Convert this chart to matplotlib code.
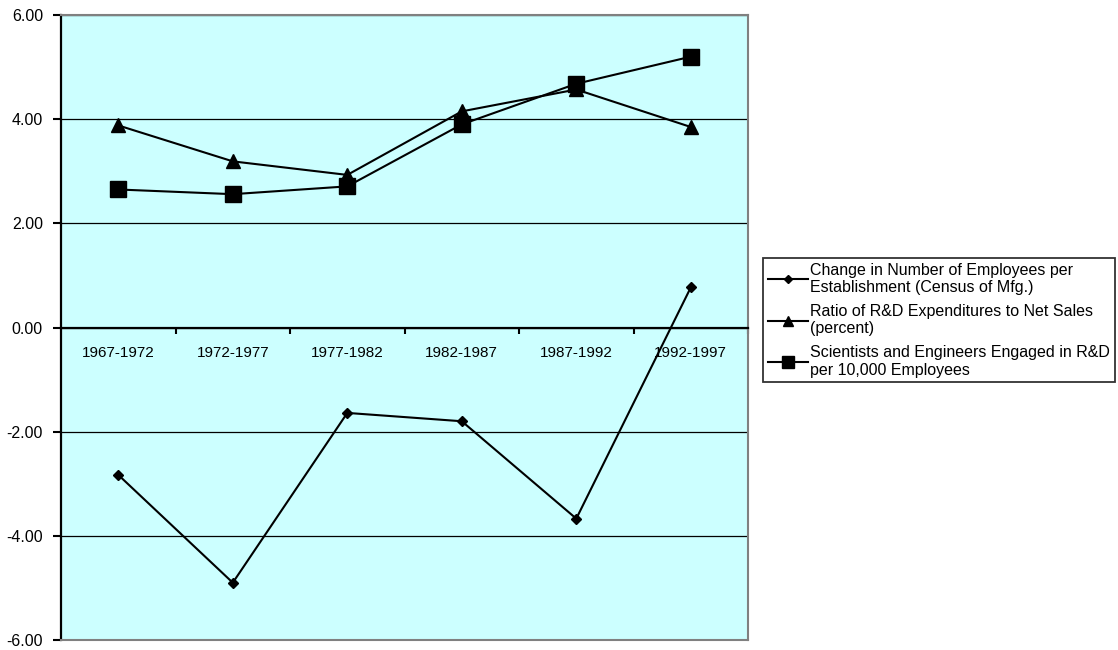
import numpy as np
import matplotlib
matplotlib.use("Agg")
import matplotlib.pyplot as plt
from matplotlib.ticker import FormatStrFormatter

plt.rcParams['font.family'] = ['Liberation Sans', 'DejaVu Sans']
plt.rcParams['font.size'] = 11

periods = ['1967-1972', '1972-1977', '1977-1982', '1982-1987', '1987-1992', '1992-1997']

# change in employees per establishment (Census of Mfg.)
employees_change = [-2.83, -4.90, -1.64, -1.80, -3.67, 0.77]
# R&D expenditure as percent of net sales
rd_ratio = [3.88, 3.19, 2.93, 4.15, 4.57, 3.85]
# scientists and engineers in R&D per 10,000 employees
scientists = [2.65, 2.56, 2.71, 3.90, 4.68, 5.20]

labels = ['Change in Number of Employees per\nEstablishment (Census of Mfg.)',
          'Ratio of R&D Expenditures to Net Sales\n(percent)',
          'Scientists and Engineers Engaged in R&D\nper 10,000 Employees']

fig = plt.figure(figsize=(11.18, 6.5), dpi=100)
ax = fig.add_axes([0.0546, 0.0154, 0.6145, 0.9615])
ax.set_facecolor('#CCFFFF')

x = np.arange(len(periods))
ax.plot(x, employees_change, color='black', lw=1.5, marker='D', ms=5, label=labels[0])
ax.plot(x, rd_ratio, color='black', lw=1.5, marker='^', ms=10, label=labels[1])
ax.plot(x, scientists, color='black', lw=1.5, marker='s', ms=11, label=labels[2])

ax.set_xlim(-0.5, len(periods) - 0.5)
ax.set_ylim(-6, 6)
ax.set_yticks(np.arange(-6, 7, 2))
ax.yaxis.set_major_formatter(FormatStrFormatter('%.2f'))
ax.yaxis.grid(True, color='black', lw=0.9)
ax.set_axisbelow(True)

# category axis sits on the zero line
ax.spines['bottom'].set_position(('data', 0))
ax.spines['bottom'].set_color('black')
ax.spines['bottom'].set_linewidth(1.6)
ax.spines['left'].set_linewidth(1.6)
for side in ('top', 'right'):
    ax.spines[side].set_color('#808080')
    ax.spines[side].set_linewidth(1.5)
ax.axhline(-6, color='#808080', lw=1.5, clip_on=False, zorder=5)

ax.set_xticks(x)
ax.set_xticklabels(periods)
ax.set_xticks(np.arange(0.5, len(periods), 1), minor=True)
ax.tick_params(axis='x', which='major', length=0, pad=13.5)
ax.tick_params(axis='x', which='minor', length=4.5, width=1.5, direction='out')
ax.tick_params(axis='y', length=6, width=1.5, pad=7, labelsize=11.5)

leg = fig.legend(loc='upper left', bbox_to_anchor=(0.6825, 0.603),
                 frameon=True, fancybox=False, edgecolor='black',
                 fontsize=11.5, handlelength=2.5, handletextpad=0.15,
                 labelspacing=0.55, borderpad=0.3, borderaxespad=0)
leg.get_frame().set_linewidth(1.3)
for h in leg.legend_handles:
    h.set_markersize(h.get_markersize() * 0.75)

fig.savefig('out.png', dpi=100)
